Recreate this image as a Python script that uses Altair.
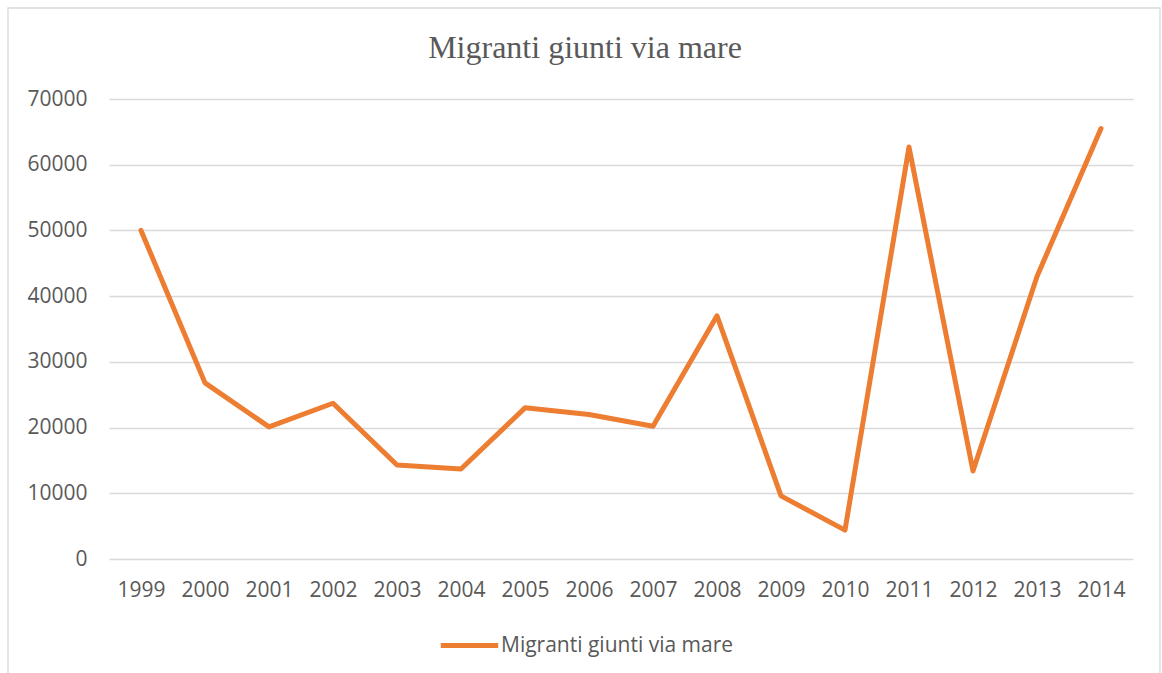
import altair as alt
import pandas as pd

years = ["1999", "2000", "2001", "2002", "2003", "2004", "2005", "2006",
         "2007", "2008", "2009", "2010", "2011", "2012", "2013", "2014"]
migranti = [50000, 26800, 20100, 23700, 14300, 13700, 23000, 22000,
            20200, 37000, 9600, 4400, 62700, 13400, 43000, 65500]
series_name = "Migranti giunti via mare"
y_ticks = [0, 10000, 20000, 30000, 40000, 50000, 60000, 70000]

df = pd.DataFrame({"year": years, "value": migranti, "series": series_name})

GRAY_TEXT = "#595959"
GRID = "#D9D9D9"
ORANGE = "#ED7D31"

line = alt.Chart(df).mark_line(
    strokeWidth=5, strokeCap="round", strokeJoin="round"
).encode(
    x=alt.X("year:O", sort=years,
            scale=alt.Scale(type="point", padding=0.5),
            axis=alt.Axis(title=None, labelAngle=0, domain=False, ticks=False,
                          grid=False, labelPadding=20, labelFontSize=21,
                          labelColor=GRAY_TEXT, labelFont="Open Sans")),
    y=alt.Y("value:Q",
            scale=alt.Scale(domain=[0, 70000], nice=False),
            axis=alt.Axis(title=None, values=y_ticks, format="d", domain=False,
                          ticks=False, grid=True, gridColor=GRID, gridWidth=1.3,
                          labelPadding=22, labelFontSize=21,
                          labelColor=GRAY_TEXT, labelFont="Open Sans")),
    color=alt.Color("series:N",
                    scale=alt.Scale(domain=[series_name], range=[ORANGE]),
                    legend=alt.Legend(title=None, orient="none",
                                      legendX=329, legendY=515,
                                      symbolType="stroke", symbolSize=3300,
                                      symbolStrokeWidth=5,
                                      labelFontSize=21, labelColor=GRAY_TEXT,
                                      labelFont="Open Sans", labelOffset=0,
                                      labelLimit=0, padding=0)),
)

border = alt.Chart(alt.Data(values=[{}])).mark_rect(
    fill=None, stroke=GRID, strokeWidth=1.3
).encode(
    x=alt.value(-101), x2=alt.value(1051),
    y=alt.value(-91), y2=alt.value(620),
)

chart = alt.layer(border, line).properties(
    width=1024, height=460,
    padding={"left": 109, "top": 99, "right": 29, "bottom": 114},
    autosize=alt.AutoSizeParams(type="none"),
    title=alt.TitleParams(text="Migranti giunti via mare", font="Liberation Serif",
                          fontSize=32, fontWeight="normal", color=GRAY_TEXT,
                          anchor="middle", offset=-58, dx=-36),
).configure_view(stroke=None)

chart.save("out.html", embed_options={"renderer": "svg", "actions": False})
